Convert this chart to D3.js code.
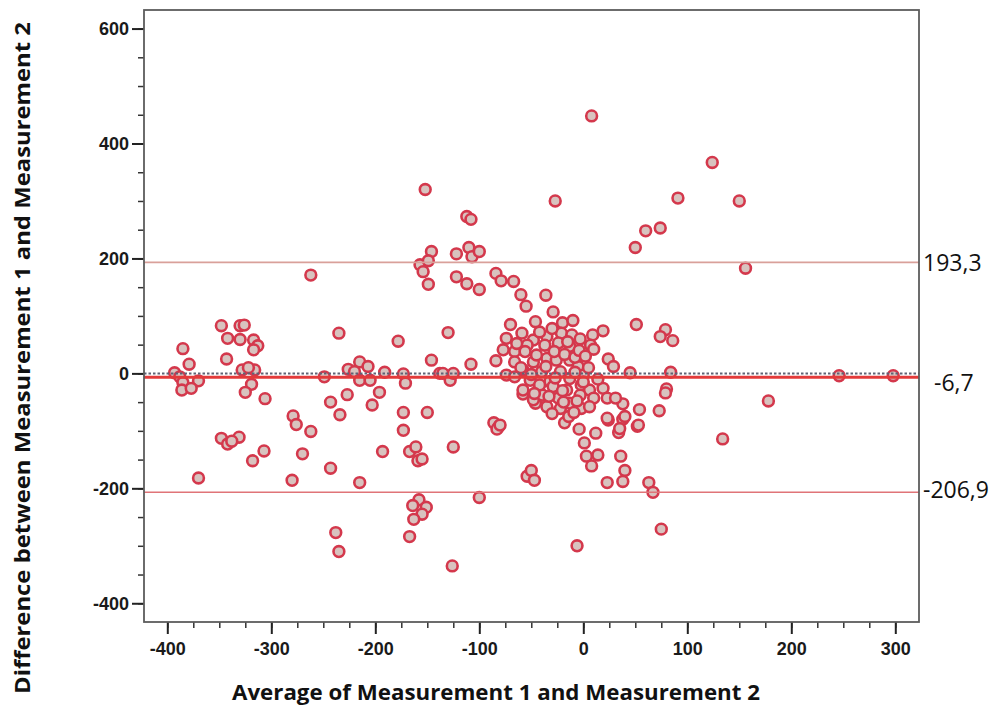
<!DOCTYPE html>
<html>
<head>
<meta charset="utf-8">
<script src="https://cdn.jsdelivr.net/npm/d3@7"></script>
<style>
  body { margin: 0; background: #fff; }
  svg { display: block; }
</style>
</head>
<body>
<svg id="chart" width="1001" height="713"></svg>
<script>
// Bland–Altman data: average of the two measurements (x) and their difference (y)
const averages = [
  -393,-388,-385,-370,-386,-377,-385,-379,-370,
  -348,-330,-326,-342,-330,-317,-313,-317,-343,-328,-316,-322,-319,-325,-306,
  -348,-342,-331,-338,-307,-318,
  -279,-276,-262,-270,-280,
  -262,-235,-249,-243,-227,-234,-243,-238,-235,
  -226,-215,-220,-207,-215,-205,-191,-203,-196,-193,-215,
  -178,-173,-171,-173,-173,-167,-161,-159,-155,
  -158,-164,-151,-155,-163,-167,
  -152,-146,-157,-149,-154,-149,
  -146,-150,-138,-135,-128,-125,
  -130,-125,-126,
  -122,-110,-107,-100,-122,-112,-100,
  -112,-108,
  -108,-100,
  -84,-86,-81,-83,-80,
  -84,-79,-67,-60,-55,-36,-29,-20,-10,-70,
  -27,8,124,91,150,
  60,74,50,156,
  51,79,74,86,19,
  9,7,10,24,29,45,84,80,79,
  19,23,38,54,73,
  -58,-46,
  246,298,178,134,
  -18,-14,-4,1,3,8,14,12,24,34,38,52,36,40,38,23,63,67,-54,-50,-47,75,-6,
  -59,-74,-48,-35,-21,-11,-24,-37,-54,-66,-77,-13,
  -66,-48,-35,-26,-13,-5,-58,-40,-22,-74,-51,-32,-13,0,-58,-43,-29,-16,-2,6,
  -48,-39,-24,-3,10,31,-35,-22,-13,-2,6,23,40,53,35,
  -60,-45,-28,-18,-8,-42,-27,-8,-50,-66,-36,-20,-33,-47,-19,-6,-56,-42,-30,-15,-4,2,-64,-30,-9,0,5,14,-3,-46
];
const differences = [
  1,-6,-16,-13,-29,-26,43,16,-182,
  83,83,84,61,59,58,48,41,25,6,6,10,-19,-33,-44,
  -113,-123,-111,-118,-135,-152,
  -74,-89,-101,-140,-186,
  171,70,-6,-50,-37,-72,-165,-277,-310,
  7,20,3,12,-12,-12,2,-55,-33,-136,-190,
  56,-1,-17,-68,-99,-136,-128,-152,-149,
  -220,-230,-233,-245,-254,-284,
  320,212,189,196,177,155,
  23,-68,0,0,-12,0,
  71,-128,-335,
  208,219,203,212,168,156,146,
  273,268,
  16,-216,
  22,-86,-92,-97,-90,
  174,161,160,137,117,136,107,88,92,85,
  300,448,367,305,300,
  248,253,219,183,
  85,76,64,57,74,
  67,49,42,25,12,1,2,-27,-34,
  -26,-43,-53,-63,-65,
  -36,-52,
  -4,-4,-48,-114,
  -86,-75,-97,-121,-144,-161,-142,-104,-81,-103,-80,-92,-144,-169,-188,-190,-190,-207,-179,-169,-186,-271,-300,
  70,61,58,64,70,67,53,49,49,38,41,47,
  20,20,26,23,23,12,6,3,3,-3,-12,-14,-9,-3,-29,-29,-23,-29,-20,-29,
  -46,-38,-43,-38,-43,-43,-58,-61,-52,-61,-58,-78,-75,-90,-96,
  10,32,38,33,28,-20,-8,2,-2,-6,12,-30,-40,-35,-50,-48,38,72,78,55,40,30,52,-70,-68,-15,10,-10,60,90
];

// Mean difference and 95% limits of agreement
const meanDifference = -6.7;
const upperLimit = 193.3;
const lowerLimit = -206.9;
const limitValues = [upperLimit, meanDifference, lowerLimit];
const limitLabels = ["193,3", "-6,7", "-206,9"];

// Axis ticks
const xTicks = [-400, -300, -200, -100, 0, 100, 200, 300];
const yTicks = [-400, -200, 0, 200, 400, 600];
const xMinorTicks = d3.range(-400, 301, 25);
const yMinorTicks = d3.range(-400, 601, 50);

const xTitle = "Average of Measurement 1 and Measurement 2";
const yTitle = "Difference between Measurement 1 and Measurement 2";

const svg = d3.select("#chart");
const plot = { left: 144, right: 919, top: 10, bottom: 622 };

const x = d3.scaleLinear().domain([-422.4, 322.8]).range([plot.left, plot.right]);
const y = d3.scaleLinear().domain([-432.6, 632.3]).range([plot.bottom, plot.top]);

const tickFont = "'Liberation Sans', Arial, sans-serif";
const titleFont = "'Open Sans', sans-serif";

// Minor ticks
svg.append("g")
  .attr("transform", `translate(0,${plot.bottom})`)
  .call(d3.axisBottom(x).tickValues(xMinorTicks).tickSize(6).tickFormat(""))
  .call(g => g.select(".domain").remove())
  .call(g => g.selectAll("line").attr("stroke", "#333").attr("stroke-width", 1.5));

svg.append("g")
  .attr("transform", `translate(${plot.left},0)`)
  .call(d3.axisLeft(y).tickValues(yMinorTicks).tickSize(6).tickFormat(""))
  .call(g => g.select(".domain").remove())
  .call(g => g.selectAll("line").attr("stroke", "#333").attr("stroke-width", 1.5));

// Major ticks with labels
function styleTickText(g) {
  g.selectAll("text")
    .attr("fill", "#1a1a1a")
    .style("font-family", tickFont)
    .style("font-weight", "bold")
    .style("font-size", "18px");
}

svg.append("g")
  .attr("transform", `translate(0,${plot.bottom})`)
  .call(d3.axisBottom(x).tickValues(xTicks).tickSize(12).tickPadding(8).tickFormat(d => String(d)))
  .call(g => g.select(".domain").remove())
  .call(g => g.selectAll("line").attr("stroke", "#222").attr("stroke-width", 2))
  .call(styleTickText);

svg.append("g")
  .attr("transform", `translate(${plot.left},0)`)
  .call(d3.axisLeft(y).tickValues(yTicks).tickSize(12).tickPadding(3).tickFormat(d => String(d)))
  .call(g => g.select(".domain").remove())
  .call(g => g.selectAll("line").attr("stroke", "#222").attr("stroke-width", 2))
  .call(styleTickText);

// Data points
const points = averages.map((a, i) => ({ avg: a, diff: differences[i] }));
svg.append("g")
  .selectAll("circle")
  .data(points)
  .join("circle")
  .attr("cx", d => x(d.avg))
  .attr("cy", d => y(d.diff))
  .attr("r", 5.4)
  .attr("fill", "#d8c3bf")
  .attr("stroke", "#d4384c")
  .attr("stroke-width", 2.6);

// Reference lines: zero (dotted), limits of agreement and mean difference
const lines = svg.append("g");
lines.append("line")
  .attr("x1", plot.left).attr("x2", plot.right)
  .attr("y1", y(0)).attr("y2", y(0))
  .attr("stroke", "#5f6275").attr("stroke-width", 2)
  .attr("stroke-dasharray", "2.5,2");

lines.append("line")
  .attr("x1", plot.left).attr("x2", plot.right)
  .attr("y1", y(upperLimit)).attr("y2", y(upperLimit))
  .attr("stroke", "#d9a09a").attr("stroke-width", 1.8);

lines.append("line")
  .attr("x1", plot.left).attr("x2", plot.right)
  .attr("y1", y(lowerLimit)).attr("y2", y(lowerLimit))
  .attr("stroke", "#e07478").attr("stroke-width", 1.5);

lines.append("line")
  .attr("x1", plot.left).attr("x2", plot.right)
  .attr("y1", y(meanDifference)).attr("y2", y(meanDifference))
  .attr("stroke", "#e33a3a").attr("stroke-width", 2.8);

// Plot frame
svg.append("rect")
  .attr("x", plot.left).attr("y", plot.top)
  .attr("width", plot.right - plot.left)
  .attr("height", plot.bottom - plot.top)
  .attr("fill", "none")
  .attr("stroke", "#5c5c5c")
  .attr("stroke-width", 1.8);

// Values of the limits, at the right edge
const labelOffsets = [{ dx: 4, dy: 9 }, { dx: 15, dy: 14 }, { dx: 4, dy: 6 }];
svg.append("g")
  .selectAll("text")
  .data(limitValues)
  .join("text")
  .attr("x", (d, i) => plot.right + labelOffsets[i].dx)
  .attr("y", (d, i) => y(d) + labelOffsets[i].dy)
  .attr("fill", "#111")
  .style("font-family", "'Open Sans', sans-serif")
  .style("font-size", "23px")
  .text((d, i) => limitLabels[i]);

// Axis titles
svg.append("text")
  .attr("x", (232 + 760) / 2)
  .attr("y", 700)
  .attr("text-anchor", "middle")
  .attr("textLength", 528)
  .attr("lengthAdjust", "spacingAndGlyphs")
  .attr("fill", "#111")
  .style("font-family", titleFont)
  .style("font-weight", "bold")
  .style("font-size", "22px")
  .text(xTitle);

svg.append("text")
  .attr("transform", "translate(30,358) rotate(-90)")
  .attr("text-anchor", "middle")
  .attr("textLength", 672)
  .attr("lengthAdjust", "spacingAndGlyphs")
  .attr("fill", "#111")
  .style("font-family", titleFont)
  .style("font-weight", "bold")
  .style("font-size", "22px")
  .text(yTitle);
</script>
</body>
</html>
